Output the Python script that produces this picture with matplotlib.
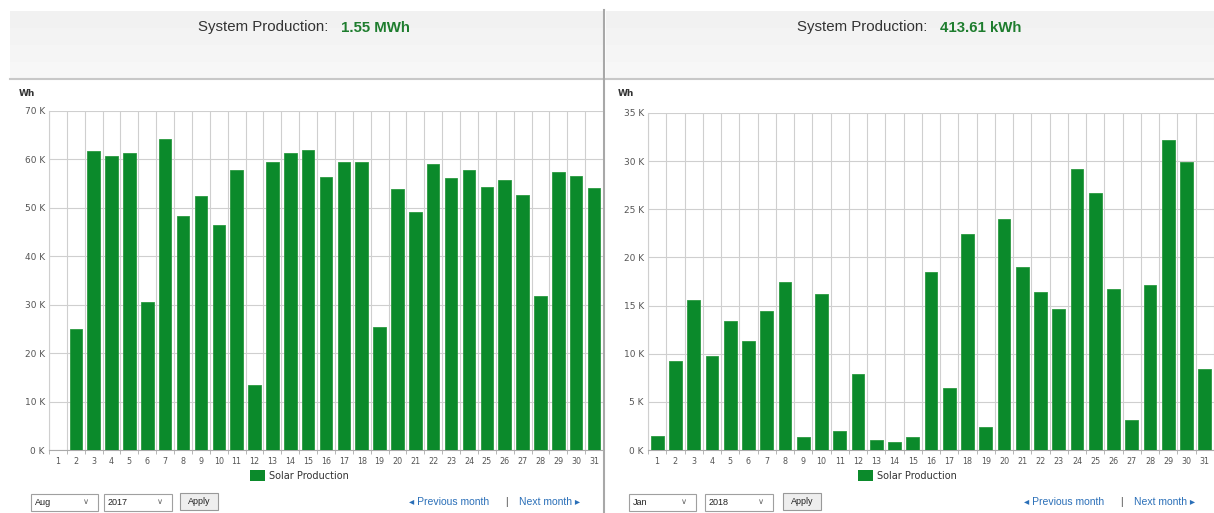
import numpy as np
import matplotlib
matplotlib.use('Agg')
import matplotlib.pyplot as plt
from matplotlib.patches import Rectangle

# daily production in kWh
days = np.arange(1, 32)
aug_2017 = [0, 24.9, 61.7, 60.7, 61.4, 30.6, 64.3, 48.3, 52.4, 46.5, 57.8,
            13.4, 59.5, 61.3, 61.9, 56.4, 59.5, 59.4, 25.5, 53.8, 49.1, 59.1,
            56.2, 57.8, 54.3, 55.7, 52.7, 31.8, 57.5, 56.5, 54.2]
jan_2018 = [1.46, 9.25, 15.6, 9.74, 13.4, 11.3, 14.4, 17.4, 1.4, 16.25, 1.97,
            7.93, 1.04, 0.87, 1.4, 18.5, 6.4, 22.4, 2.4, 24.0, 19.05, 16.4,
            14.65, 29.2, 26.7, 16.7, 3.08, 17.1, 32.15, 29.9, 8.4]
totals = ['1.55 MWh', '413.61 kWh']
months = ['Aug', 'Jan']
years = ['2017', '2018']

W, H = 1214, 513
green = '#0b8a2b'
grid_c = '#cfcfcf'
lab_c = '#555555'
web = ['Liberation Sans', 'DejaVu Sans']

fig = plt.figure(figsize=(W / 100, H / 100), dpi=100)
fig.patch.set_facecolor('white')

bg = fig.add_axes([0, 0, 1, 1])
bg.set_xlim(0, W)
bg.set_ylim(H, 0)
bg.axis('off')


def px_axes(left, top, right, bottom):
    return fig.add_axes([left / W, 1 - bottom / H, (right - left) / W, (bottom - top) / H])


def panel(x0, x1, ax_box, vals, ymax, ystep, xright, total, month, year, leg_x, head_x, ctrl):
    # header band, slightly lighter towards the bottom
    shades = ['#f1f1f1', '#f3f3f3', '#f5f5f5', '#f7f7f7']
    for i, c in enumerate(shades):
        bg.add_patch(Rectangle((x0, 11 + i * 17), x1 - x0, 17, facecolor=c, edgecolor='none'))
    bg.plot([x0, x1], [78.5, 78.5], color='#c8c8c8', lw=1.5)
    bg.text(head_x, 27.5, 'System Production:', ha='right', va='center',
            fontsize=10.8, color='#333333', family=web)
    bg.text(head_x + 13, 27.5, total, ha='left', va='center', fontsize=10.8,
            fontweight='bold', color='#1e7d2e', family=web)
    bg.text(ax_box[0] - 30, 93, 'Wh', ha='left', va='center', fontsize=6.5,
            fontweight='bold', color='#333333')

    ax = px_axes(*ax_box)
    ax.bar(days, vals, width=0.7, color=green, edgecolor='#2a9a40', linewidth=0.6, zorder=3)
    ax.set_xlim(0.5, xright)
    ax.set_ylim(0, ymax)
    yt = np.arange(0, ymax + 1, ystep)
    ax.set_yticks(yt)
    ax.set_yticklabels(['%d K' % v for v in yt])
    ax.set_xticks(days)
    ax.set_xticklabels([str(d) for d in days])
    ax.set_xticks(np.arange(0.5, 32, 1), minor=True)
    ax.grid(axis='y', color=grid_c, lw=0.8, zorder=0)
    ax.grid(axis='x', which='minor', color=grid_c, lw=0.8, zorder=0)
    ax.tick_params(axis='x', which='major', length=0, labelsize=5.8, labelcolor=lab_c, pad=5)
    ax.tick_params(axis='x', which='minor', length=3, color='#aaaaaa')
    ax.tick_params(axis='y', length=0, labelsize=6.5, labelcolor=lab_c, pad=3)
    for s in ['top', 'right']:
        ax.spines[s].set_visible(False)
    ax.spines['left'].set_color(grid_c)
    ax.spines['bottom'].set_color('#aaaaaa')

    # legend
    bg.add_patch(Rectangle((leg_x, 470), 15, 11, facecolor=green, edgecolor='none'))
    bg.text(leg_x + 19, 476, 'Solar Production', ha='left', va='center',
            fontsize=7, color='#333333')

    # controls
    mx, yx, ax_, px = ctrl
    for (bx, bw, txt) in [(mx, 67, month), (yx, 68, year)]:
        bg.add_patch(Rectangle((bx, 494), bw, 17, facecolor='white', edgecolor='#a0a0a0', lw=0.8))
        bg.text(bx + 4, 502.5, txt, ha='left', va='center', fontsize=6.5, color='#222222',
                family=web)
        bg.text(bx + bw - 12, 502, '\u2228', ha='center', va='center', fontsize=6, color='#666666')
    bg.add_patch(Rectangle((ax_, 493), 38, 17, facecolor='#eeeeee', edgecolor='#999999', lw=0.8))
    bg.text(ax_ + 19, 501.5, 'Apply', ha='center', va='center', fontsize=6.5, color='#222222',
            family=web)
    bg.text(px, 502, '\u25c2 Previous month', ha='left', va='center', fontsize=7.5,
            color='#2a6fb8', family=web)
    bg.text(px + 97, 502, '|', ha='center', va='center', fontsize=7.5, color='#555555',
            family=web)
    bg.text(px + 110, 502, 'Next month \u25b8', ha='left', va='center', fontsize=7.5,
            color='#2a6fb8', family=web)
    return ax


panel(10, 603, (49, 111, 603, 450), aug_2017, 70, 10, 31.4, totals[0], months[0], years[0],
      250, 328, (31, 104, 180, 409))
panel(606, 1214, (648, 113, 1214, 450), jan_2018, 35, 5, 31.16, totals[1], months[1], years[1],
      858, 927, (629, 705, 783, 1024))

# divider between the two panels
bg.plot([604, 604], [10, 513], color='#a8a8a8', lw=1.5)

fig.savefig('out.png', dpi=100)
